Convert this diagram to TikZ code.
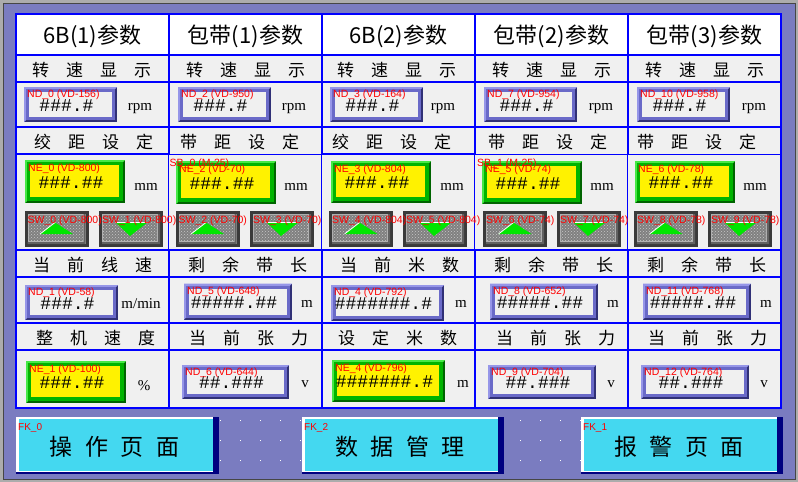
\documentclass[tikz,border=0pt]{standalone}
\usepackage{fontspec}
\setmainfont{Liberation Serif}
\setmonofont{Liberation Mono}
\newfontfamily\cjk{Noto Sans CJK SC}
\newfontfamily\lbl{Liberation Sans}
\usepackage{xcolor}
\usepackage{tikz}
\usetikzlibrary{patterns}

\definecolor{screen}{RGB}{122,124,192}
\definecolor{rimlight}{RGB}{172,172,172}
\definecolor{rimdark}{RGB}{70,70,70}
\definecolor{hmiblue}{RGB}{0,0,255}
\definecolor{cellgray}{RGB}{240,240,240}
\definecolor{ndlight}{RGB}{150,150,232}
\definecolor{ndmid}{RGB}{106,106,200}
\definecolor{nddark}{RGB}{48,48,118}
\definecolor{nelight}{RGB}{70,232,70}
\definecolor{nemid}{RGB}{0,180,0}
\definecolor{nedark}{RGB}{0,100,0}
\definecolor{swdark}{RGB}{58,58,58}
\definecolor{swlight}{RGB}{175,175,175}
\definecolor{swface}{RGB}{128,128,128}
\definecolor{swdot}{RGB}{200,200,200}
\definecolor{swgreen}{RGB}{0,230,0}
\definecolor{fkface}{RGB}{68,216,240}
\definecolor{fkdark}{RGB}{0,0,128}

\begin{document}
\begin{tikzpicture}[x=1pt,y=-1pt]
  \tikzstyle{title}=[font=\cjk\fontsize{22}{22}\selectfont,inner sep=0]
  \tikzstyle{caption}=[anchor=west,font=\cjk\fontsize{17}{17}\selectfont,inner sep=0]
  \tikzstyle{tag}=[anchor=north west,text=red,font=\lbl\fontsize{10.5}{10.5}\selectfont,inner sep=0]
  \tikzstyle{value}=[font=\ttfamily\fontsize{18}{18}\selectfont,inner sep=0]
  \tikzstyle{unit}=[anchor=base,font=\fontsize{15}{15}\selectfont,inner sep=0]
  \tikzstyle{face}=[inner sep=0,outer sep=0]
  \tikzstyle{key}=[font=\cjk\fontsize{23}{23}\selectfont,inner sep=0]
  \tikzstyle{rule}=[draw=hmiblue,line width=2.6pt]

  \useasboundingbox (0,0) rectangle (798,482);
  \fill[screen] (0,0) rectangle (798,482);
  \draw[rimlight,line width=2.5pt] (1.25,1.25) rectangle (796.75,480.75);
  \draw[rimdark,line width=1pt] (3,3) rectangle (795,479);

  % table
  \fill[cellgray] (16,14) rectangle (781,408);
  \fill[white] (16,14) rectangle (781,55);
  \foreach \y in {55,82,127,250,277,323,350} \draw[rule] (16,\y) -- (781,\y);
  \draw[rule] (16,154) -- (169,154) (322,154) -- (475,154);
  \draw[hmiblue,line width=1pt] (169,154.5) -- (322,154.5) (475,154.5) -- (781,154.5);
  \foreach \x in {169,322,475,628} {
    \draw[rule] (\x,14) -- (\x,154) (\x,250) -- (\x,408);
    \draw[hmiblue,line width=1pt] (\x-1,154) -- (\x-1,250);
  }
  \draw[rule] (16,14) rectangle (781,408);

  \foreach \c/\t in {1/{6B(1)参数},2/{包带(1)参数},3/{6B(2)参数},4/{包带(2)参数},5/{包带(3)参数}}
    \node[title] (head\c) at ({153*\c-60.5},36) {\t};

  \foreach \n/\x/\y/\t in {
    spd1/32/70/{转\quad 速\quad 显\quad 示}, spd2/186/70/{转\quad 速\quad 显\quad 示},
    spd3/337/70/{转\quad 速\quad 显\quad 示}, spd4/492/70/{转\quad 速\quad 显\quad 示},
    spd5/645/70/{转\quad 速\quad 显\quad 示},
    pit1/34/142.5/{绞\quad 距\quad 设\quad 定}, pit2/180/142.5/{带\quad 距\quad 设\quad 定},
    pit3/332/142.5/{绞\quad 距\quad 设\quad 定}, pit4/488/142.5/{带\quad 距\quad 设\quad 定},
    pit5/637/142.5/{带\quad 距\quad 设\quad 定},
    lin1/33/265/{当\quad 前\quad 线\quad 速}, rem2/188/265/{剩\quad 余\quad 带\quad 长},
    cnt3/340/265/{当\quad 前\quad 米\quad 数}, rem4/494/265/{剩\quad 余\quad 带\quad 长},
    rem5/647/265/{剩\quad 余\quad 带\quad 长},
    all1/36/338/{整\quad 机\quad 速\quad 度}, ten2/189/338/{当\quad 前\quad 张\quad 力},
    set3/338/338/{设\quad 定\quad 米\quad 数}, ten4/496/338/{当\quad 前\quad 张\quad 力},
    ten5/648/338/{当\quad 前\quad 张\quad 力}}
    \node[caption] (\n) at (\x,\y) {\t};

  % display boxes
  \foreach \n/\cx/\cy/\bw/\bh/\tg/\val in {
    nd0/70.5/104.5/93/35/{ND\_0 (VD-156)}/{\#\#\#.\#},
    nd2/224.5/104.5/93/35/{ND\_2 (VD-950)}/{\#\#\#.\#},
    nd3/376.5/104.5/93/35/{ND\_3 (VD-164)}/{\#\#\#.\#},
    nd7/530.5/104.5/93/35/{ND\_7 (VD-954)}/{\#\#\#.\#},
    nd10/683.5/104.5/93/35/{ND\_10 (VD-958)}/{\#\#\#.\#},
    nd1/71.5/302.5/93/35/{ND\_1 (VD-58)}/{\#\#\#.\#},
    nd5/238/301.5/108/36/{ND\_5 (VD-648)}/{\#\#\#\#\#.\#\#},
    nd4/387.5/303/113/36/{ND\_4 (VD-792)}/{\#\#\#\#\#\#\#.\#},
    nd8/544/301.5/108/36/{ND\_8 (VD-652)}/{\#\#\#\#\#.\#\#},
    nd11/697/301.5/108/36/{ND\_11 (VD-768)}/{\#\#\#\#\#.\#\#},
    nd6/235.5/382/107/34/{ND\_6 (VD-644)}/{\#\#.\#\#\#},
    nd9/542/382/108/34/{ND\_9 (VD-704)}/{\#\#.\#\#\#},
    nd12/695/382/108/34/{ND\_12 (VD-764)}/{\#\#.\#\#\#}}{
    \fill[nddark] (\cx-\bw/2,\cy-\bh/2) rectangle (\cx+\bw/2,\cy+\bh/2);
    \fill[ndlight] (\cx-\bw/2,\cy+\bh/2) -- (\cx-\bw/2,\cy-\bh/2) -- (\cx+\bw/2,\cy-\bh/2)
      -- (\cx+\bw/2-5,\cy-\bh/2+5) -- (\cx-\bw/2+5,\cy+\bh/2-5) -- cycle;
    \fill[ndmid] (\cx-\bw/2+2,\cy-\bh/2+2) rectangle (\cx+\bw/2-2,\cy+\bh/2-2);
    \node[face,fill=cellgray,minimum width=\bw-10,minimum height=\bh-10] (\n) at (\cx,\cy) {};
    \node[value] (\n-val) at (\cx-4,\cy+1) {\val};
    \node[tag] (\n-tag) at (\cx-\bw/2+3,\cy-\bh/2+3) {\tg};
  }

  % input boxes
  \foreach \n/\cx/\cy/\bw/\bh/\tg/\val in {
    ne0/75/181.5/100/43/{NE\_0 (VD-800)}/{\#\#\#.\#\#},
    ne2/226/182.5/100/43/{NE\_2 (VD-70)}/{\#\#\#.\#\#},
    ne3/381/182/100/42/{NE\_3 (VD-804)}/{\#\#\#.\#\#},
    ne5/532/182.5/100/43/{NE\_5 (VD-74)}/{\#\#\#.\#\#},
    ne6/685/182/100/42/{NE\_6 (VD-78)}/{\#\#\#.\#\#},
    ne1/76/382/100/42/{NE\_1 (VD-100)}/{\#\#\#.\#\#},
    ne4/388.5/381/113/42/{NE\_4 (VD-796)}/{\#\#\#\#\#\#\#.\#}}{
    \fill[nedark] (\cx-\bw/2,\cy-\bh/2) rectangle (\cx+\bw/2,\cy+\bh/2);
    \fill[nelight] (\cx-\bw/2,\cy+\bh/2) -- (\cx-\bw/2,\cy-\bh/2) -- (\cx+\bw/2,\cy-\bh/2)
      -- (\cx+\bw/2-6,\cy-\bh/2+6) -- (\cx-\bw/2+6,\cy+\bh/2-6) -- cycle;
    \fill[nemid] (\cx-\bw/2+2,\cy-\bh/2+2) rectangle (\cx+\bw/2-2,\cy+\bh/2-2);
    \node[face,fill=yellow,minimum width=\bw-11,minimum height=\bh-11] (\n) at (\cx-0.5,\cy-0.5) {};
    \node[value] (\n-val) at (\cx-4,\cy+1) {\val};
    \node[tag] (\n-tag) at (\cx-\bw/2+3,\cy-\bh/2+4) {\tg};
  }
  \node[tag] (sb0) at (169.5,158.5) {SB\_0 (M-25)};
  \node[tag] (sb1) at (477,158.5) {SB\_1 (M-25)};

  % step buttons
  \foreach \c/\lx/\rx/\vd in {1/56.5/131/800,2/207.5/282/70,3/361/435/804,4/515/589/74,5/666/740/78}{
    \pgfmathtruncatemacro\ka{2*\c-2}
    \pgfmathtruncatemacro\kb{2*\c-1}
    \foreach \bx/\k in {\lx/\ka,\rx/\kb}{
      \fill[swdark] (\bx-32,211) rectangle (\bx+32,247);
      \fill[swlight] (\bx-29,214) rectangle (\bx+29,244);
      \fill[swdark!80] (\bx+27,214) rectangle (\bx+29,244) (\bx-29,242) rectangle (\bx+29,244);
      \node[face,minimum width=54,minimum height=26,preaction={fill=swface},
        pattern=crosshatch dots,pattern color=swdot] (sw\k) at (\bx-1,228) {};
    }
    \fill[swgreen] (\lx-1.5,222.5) -- (\lx+16.5,234) -- (\lx-16.5,234) -- cycle;
    \draw[white,line width=0.8pt] (\lx-16.5,234) -- (\lx-1.5,222.5);
    \fill[swgreen] (\rx-16,222) -- (\rx+17,222) -- (\rx-1,236) -- cycle;
    \draw[white,line width=0.8pt] (\rx-16,222) -- (\rx+17,222);
    \node[tag] (sw\ka-tag) at (\lx-29,216) {SW\_\ka\ (VD-\vd)};
    \node[tag] (sw\kb-tag) at (\rx-29,216) {SW\_\kb\ (VD-\vd)};
  }

  % units
  \foreach \n/\x/\y/\u in {
    u1/140/110.5/rpm, u2/294/110.5/rpm, u3/443/110.5/rpm, u4/601/110.5/rpm, u5/754/110.5/rpm,
    u6/146/190/mm, u7/296/190/mm, u8/452/190/mm, u9/602/190/mm, u10/755/190/mm,
    u11/141/308/{m/min}, u12/307/307/m, u13/461/307/m, u14/613/307/m, u15/766/307/m,
    u16/144/390/\%, u17/305/387/v, u18/463/387/m, u19/611/387/v, u20/764/387/v}
    \node[unit] (\n) at (\x,\y) {\u};

  % page keys
  \foreach \x in {20,40,...,780} \foreach \y in {420,440,460}
    \fill[white] (\x,\y) rectangle ++(1,1);
  \foreach \n/\xa/\xb/\tg/\t in {
    fk0/16/219/{FK\_0}/{操\hspace{.55em}作\hspace{.55em}页\hspace{.55em}面},
    fk2/302/504/{FK\_2}/{数\hspace{.55em}据\hspace{.55em}管\hspace{.55em}理},
    fk1/581/783/{FK\_1}/{报\hspace{.55em}警\hspace{.55em}页\hspace{.55em}面}}{
    \fill[fkdark] (\xa,417) rectangle (\xb,474);
    \fill[white] (\xa,417) rectangle (\xb-6,472);
    \node[face,fill=fkface,minimum width=\xb-\xa-9,minimum height=52] (\n) at ({(\xa+\xb-3)/2},445) {};
    \node[key] (\n-text) at ({(\xa+\xb)/2-3},447) {\t};
    \node[tag,font=\lbl\fontsize{10}{10}\selectfont] (\n-tag) at (\xa+2,423) {\tg};
  }
\end{tikzpicture}
\end{document}
